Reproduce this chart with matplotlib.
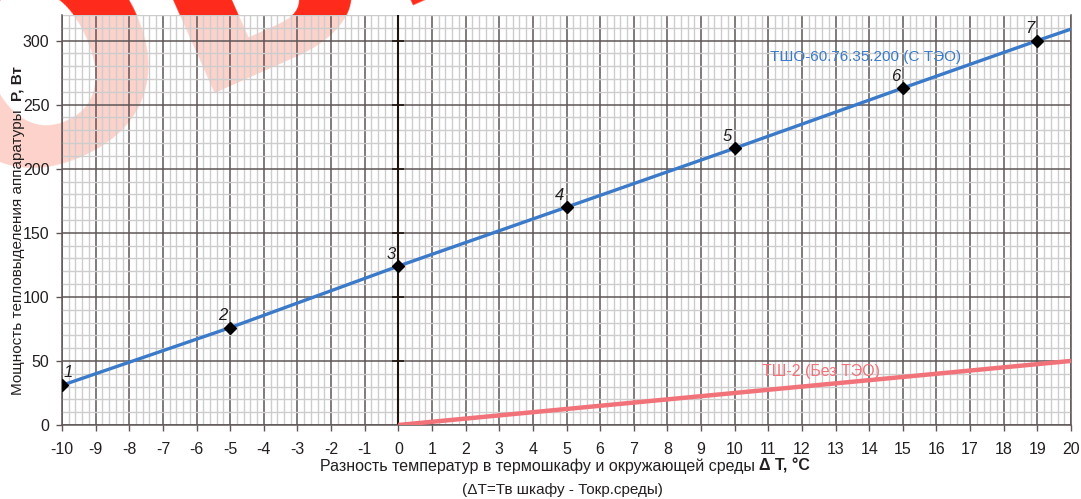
import matplotlib
matplotlib.use('Agg')
import matplotlib.pyplot as plt
from matplotlib.patches import Rectangle
from matplotlib.ticker import MultipleLocator

plt.rcParams['font.family'] = ['Liberation Sans', 'DejaVu Sans']
plt.rcParams['axes.unicode_minus'] = False

# ---- data ----
dt_points = [-10, -5, 0, 5, 10, 15, 19]
p_points = [31, 76, 124, 170, 216, 263, 300]
point_labels = ['1', '2', '3', '4', '5', '6', '7']
line1_x = [-10, -5, 0, 5, 10, 15, 19, 20]
line1_y = [31, 76, 124, 170, 216, 263, 300, 309]
line2_x = [0, 20]
line2_y = [0, 50]
x_ticks = list(range(-10, 21))
y_ticks = [0, 50, 100, 150, 200, 250, 300]
label1 = 'ТШО-60.76.35.200 (С ТЭО)'
label2 = 'ТШ-2 (Без ТЭО)'
xlabel_normal = 'Разность температур в термошкафу и окружающей среды '
xlabel_bold = 'Δ T, °C'
xlabel2 = '(ΔT=Тв шкафу - Токр.среды)'
ylabel_normal = 'Мощность тепловыделения аппаратуры  '
ylabel_bold = 'P, Вт'
watermark = 'ОБРАЗЕЦ'

W, H = 1081, 499
TXT = '#231f1f'
fig = plt.figure(figsize=(W / 100, H / 100), dpi=100)
fig.patch.set_facecolor('white')

# watermark: pale everywhere, bright in the top strip
wm_kw = dict(fontsize=205, fontweight='bold', rotation=24, rotation_mode='anchor',
             ha='left', va='baseline', family='DejaVu Sans')
wm_pos = (-30 / W, 1 - 196 / H)
fig.text(*wm_pos, watermark, color='#fcd2ca', zorder=-2, **wm_kw)
strip = Rectangle((0, 1 - 15 / H), 1, 15 / H, transform=fig.transFigure)
wm2 = fig.text(*wm_pos, watermark, color='#ff2a1a', zorder=-1, **wm_kw)
wm2.set_clip_path(strip)

ax = fig.add_axes([62 / W, 1 - 425 / H, (1071 - 62) / W, (425 - 15) / H])
ax.set_facecolor('none')
ax.set_xlim(-10, 20)
ax.set_ylim(0, 320)

ax.set_xticks(x_ticks)
ax.set_yticks(y_ticks)
ax.xaxis.set_minor_locator(MultipleLocator(0.2))
ax.yaxis.set_minor_locator(MultipleLocator(10))
ax.grid(which='minor', color='#cdcdcd', linewidth=1.0, zorder=0)
ax.grid(which='major', color='#5e5656', linewidth=1.1, zorder=1)
ax.set_axisbelow(True)
ax.tick_params(which='minor', length=0)
ax.tick_params(axis='x', which='major', length=4, width=1, color='#5e5656',
               labelsize=11.5, labelcolor=TXT, pad=8)
ax.tick_params(axis='y', which='major', length=4, width=1, color='#5e5656',
               labelsize=11.5, labelcolor=TXT, pad=5)

for s in ['left', 'bottom', 'right']:
    ax.spines[s].set_color('#5e5656')
    ax.spines[s].set_linewidth(1.1)
ax.spines['top'].set_visible(False)

# zero axis
ax.axvline(0, color='#1e140c', linewidth=1.5, zorder=2)
ax.plot([0] * (len(y_ticks) - 1), y_ticks[1:], linestyle='none', marker='_',
        markersize=8, color='#1e140c', markeredgewidth=1.2, zorder=2)

# lines
ax.plot(line1_x, line1_y, color='#3b7ac9', linewidth=2.4, zorder=3,
        solid_capstyle='butt')
ax.plot(line2_x, line2_y, color='#f2727a', linewidth=3.2, zorder=3,
        solid_capstyle='butt')
ax.plot(dt_points, p_points, linestyle='none', marker='D', markersize=6.5,
        color='black', zorder=4)

for i, (x, y, t) in enumerate(zip(dt_points, p_points, point_labels)):
    dx, dy = (6, 13) if i == 0 else (-7, 12)
    ax.annotate(t, (x, y), xytext=(dx, dy), textcoords='offset pixels',
                ha='center', va='center', fontsize=12, fontstyle='italic',
                color=TXT, zorder=5)

ax.text(11.05, 287.5, label1, color='#3b7ac9', fontsize=11, ha='left', va='center')
ax.text(10.81, 42, label2, color='#f2727a', fontsize=11.5, ha='left', va='center')

r = fig.canvas.get_renderer()

# x label (normal + bold), centred at x=565 px
XL_FS = 11.5
xa = fig.text(0, 1 - 466 / H, xlabel_normal, ha='left', va='center',
              fontsize=XL_FS, color=TXT)
xb = fig.text(0, 1 - 466 / H, xlabel_bold, ha='left', va='center',
              fontsize=XL_FS, color=TXT, fontweight='bold')
wa = xa.get_window_extent(r).width
wb = xb.get_window_extent(r).width
x0 = 565 - (wa + wb) / 2
xa.set_x(x0 / W)
xb.set_x((x0 + wa) / W)
fig.text(562 / W, 1 - 490 / H, xlabel2, ha='center', va='center',
         fontsize=11, color=TXT)

# y label (normal + bold), rotated, centred at y=231 px from top
YL_FS = 11
ya = fig.text(18 / W, 0, ylabel_normal, rotation=90, ha='center', va='bottom',
              fontsize=YL_FS, color=TXT)
yb = fig.text(18 / W, 0, ylabel_bold, rotation=90, ha='center', va='bottom',
              fontsize=YL_FS, color=TXT, fontweight='bold')
ha_ = ya.get_window_extent(r).height
hb_ = yb.get_window_extent(r).height
y0 = (H - 231) - (ha_ + hb_) / 2
ya.set_y(y0 / H)
yb.set_y((y0 + ha_) / H)

fig.savefig('out.png', dpi=100)
